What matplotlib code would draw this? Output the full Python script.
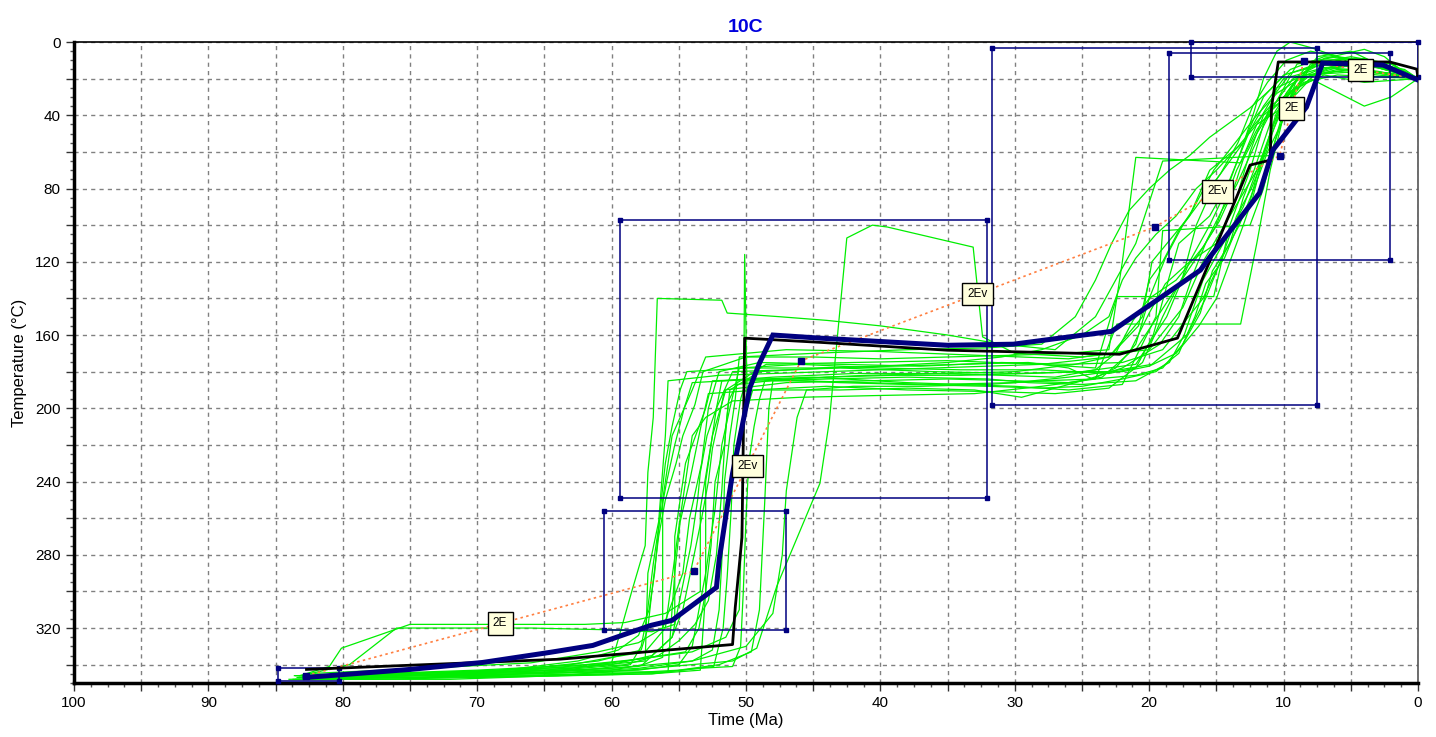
import matplotlib.pyplot as plt
from matplotlib.ticker import MultipleLocator, FuncFormatter

plt.rcParams['font.family'] = ['Liberation Sans', 'DejaVu Sans']

# constraint boxes: (t_old, t_young, T_top, T_bottom)
boxes = [
    (84.8, 80.3, 342, 349),
    (60.6, 47.0, 256, 321),
    (59.4, 32.1, 97, 249),
    (31.7, 7.5, 3, 198),
    (18.5, 2.1, 6, 119),
    (16.9, 0.0, 0, 19),
]

# dotted path through the box points, with the segment labels
path_t = [82.7, 53.9, 45.9, 19.6, 10.3, 8.5, 0.0]
path_T = [346, 289, 174, 101, 62, 10.4, 20]
seg_labels = ["2E", "2Ev", "2Ev", "2Ev", "2E", "2E"]

# best fit path (black)
best_t = [82.7, 63.8, 51.0, 50.8, 50.3, 50.1, 44.5, 35.0, 22.2, 17.9, 12.5, 11.0, 10.9, 10.4, 2.1, 0.1, 0.0]
best_T = [342.6, 337, 329, 308.7, 270.5, 161.7, 164, 168.3, 170.5, 161.7, 67.2, 64.5, 35.5, 10.9, 10.9, 14.8, 19.7]

# weighted mean path (navy)
mean_t = [82.8, 75.0, 69.6, 64.6, 61.4, 57.1, 55.5, 52.2, 52.0, 51.4, 51.0, 50.2, 49.7, 49.0, 48.0,
          44.5, 35.0, 30.1, 22.8, 16.2, 15.5, 11.8, 10.8, 8.3, 7.1, 2.6, 0.0]
mean_T = [347, 342.6, 338.8, 333.3, 329.5, 318.6, 315.8, 297.8, 283, 254, 235.5, 206.6, 188.5, 175.4, 160,
          161.7, 165.6, 165, 158, 124.6, 117.5, 82.5, 59, 35.5, 11.5, 12.6, 20.8]

# good fit paths (green), (t, T) pairs
green_paths = [
    [(83.0,346),(72,344),(62,341),(57.5,338),(57.3,290),(56.5,262),(56,215),(55.8,185),(52,182),(44,180),(36,178),(28,176),(23,172),(20.5,150),(19.8,120),(17,95),(15.5,70),(13,55),(11.5,35),(10,20),(7,14),(3,12),(1,15),(0,20)],
    [(82.8,347),(75,346),(65,344),(58,341),(56.2,336),(56.2,250),(55.5,215),(54,190),(53,172),(47,168),(40,169),(33,171),(26,173),(21,168),(18.5,140),(16.5,118),(15,100),(13.5,70),(12,48),(10.5,32),(9,12),(6,8),(3,14),(0,20)],
    [(83.2,346),(81,341),(80.1,331),(75,318),(62,318),(59,317),(56,312),(53.4,300),(53.4,255),(52.5,215),(51.5,190),(48.5,176),(42,175),(35,174),(28,176),(24,178),(22.4,139),(15.2,139),(14,100),(12.5,70),(11.5,45),(10.5,25),(8.5,18),(4,16),(0,20)],
    [(82.5,345),(79.5,340),(76,320),(66,320),(60,321),(57,322),(55.3,318),(55.3,270),(54.5,230),(53,200),(52.5,185),(45,183),(38,186),(30,188),(26,190),(22,187),(19.5,150),(19,103),(12.5,100),(11.5,80),(10.5,50),(9.5,25),(7.5,10),(4,9),(1,16),(0,20)],
    [(84.0,348),(74,347),(64,346),(57,345),(53.4,343),(53.0,300),(53.0,240),(52.2,200),(51,180),(43,178),(36,180),(30,181),(25,180),(21,176),(18.7,150),(17,120),(15,110),(13.5,85),(12.5,60),(11.5,40),(9.8,30),(8,20),(4,35),(2,30),(0,20)],
    [(83.5,348),(72,348),(64,346),(57.1,342),(51,338),(49.2,331),(47.7,297),(44.5,241),(43.8,207),(42.5,107),(40.6,100),(39.5,101),(33.1,112),(32.4,161),(30,170),(25,172),(20,168),(17.5,145),(16,120),(14,95),(12,70),(11,50),(10,30),(8,18),(5,12),(2,15),(0,20)],
    [(83,347),(70,345),(60,339),(54,333),(51.5,325),(50.5,310),(50.2,230),(50.1,116),(49.9,200),(49.5,190),(44,188),(38,190),(31,191),(27,192),(23,189),(20.5,175),(19,150),(17.5,128),(16.5,100),(15,75),(13,55),(11.5,30),(10,18),(6,10),(3,13),(0,20)],
    [(82.7,346),(72,344),(63,342),(60,339),(58.5,300),(57.5,275),(57.3,235),(56.9,205),(56.6,140),(51.8,141),(51.4,148),(47.5,150),(44,152),(40,155),(35,160),(31,165),(27,168),(24,150),(21,110),(19,65),(11,62),(9.5,30),(8,12),(5,8),(2,12),(0,20)],
    [(83.3,347),(75,347),(66,345),(58,343),(55,340),(54,330),(53.0,290),(52.3,255),(51.8,220),(51.2,200),(50.5,178),(46,176),(40,178),(34,179),(28,179),(23,181),(21,178),(19.7,160),(18.5,128),(17.8,110),(15.5,95),(14,75),(12.5,48),(11,35),(9,25),(7,18),(4,22),(0,20)],
    [(82.9,345),(74,342),(66,339),(61,333),(58,328),(56.2,320),(54.7,290),(54.2,260),(53.3,230),(52.8,200),(52.0,180),(49,175),(43,176),(37,177),(31,175),(26,176),(22,175),(19,168),(16,140),(14.7,120),(13.5,95),(12.4,80),(11.3,60),(10.4,40),(9,25),(7.5,8),(5,5),(3,12),(0,20)],
    [(83.6,346),(70,346),(60,345),(55,343),(52,340),(49.6,333),(49,310),(48.6,250),(48.3,200),(48,185),(44,184),(38,183),(32,184),(29,186),(25,187),(21,185),(18.5,175),(17.4,160),(16,130),(14.5,110),(13,90),(12,70),(11,52),(10,35),(8.5,22),(6,18),(0,20)],
    [(82.6,347),(75,345),(68,343),(63,340),(60,336),(57.5,333),(56,320),(55,265),(54.6,245),(54,215),(53,205),(51,196),(46,194),(40,193),(33,192),(28,188),(24,184),(22.4,154),(13.2,154),(12,110),(11,70),(10,40),(9,20),(6,16),(0,20)],
    [(83.1,346),(78,345),(70,343),(62,340),(58,337),(54.5,333),(53.5,320),(53,300),(52.6,275),(52.3,240),(51.6,220),(51.3,196),(50.7,187),(47,184),(41,182),(35,181),(30,180),(25.5,176),(23,172),(20.8,155),(20,130),(19,120),(17.8,103),(16.8,92),(15.2,70),(13.6,55),(12,40),(10.5,28),(8.8,20),(6,15),(2,17),(0,20)],
    [(83.4,347),(76,346),(67,345),(59,344),(56,344),(52.4,341),(51.7,320),(51.4,292),(51.1,255),(50.9,220),(50.4,195),(50,185),(46,185),(41,186),(36,187),(30,186),(26,183),(23,180),(19.8,176),(17.2,160),(15.8,140),(14.6,118),(13.3,100),(12.2,80),(11.2,60),(10.2,45),(9.3,30),(8.3,18),(5,15),(0,20)],
    [(82.8,346),(76,346),(68,344),(60,342),(54,338),(50,330),(48,312),(47.3,280),(47.0,245),(46.6,225),(46.2,205),(45.5,190),(42,188),(37,188),(32,187),(28,185),(24,184),(21,182),(19,178),(17.5,165),(16.2,148),(15.3,125),(14,110),(13,85),(12.2,70),(11.5,55),(10.8,40),(9.8,28),(8.5,15),(6.5,11),(3,14),(0,20)],
    [(83.0,347),(74,346),(66,342),(61,338),(57.8,332),(57.3,320),(57,300),(56.5,270),(56,250),(55.2,230),(54.7,215),(53.8,198),(53.2,180),(50,172),(45,172),(40,173),(35,172),(30,171),(26,170),(23,168),(22,120),(21,63),(13.2,66),(12,45),(10.8,30),(9.5,17),(7.5,12),(3,14),(0,20)],
    [(82.4,346),(72,345),(64,343),(59,340),(56.5,335),(55,327),(53.8,318),(52.8,305),(52.2,280),(51.8,245),(51.5,210),(51.2,190),(49,180),(44,178),(39,177),(34,176),(29,175),(26,178),(24.2,184),(22.5,178),(21,165),(20,140),(18.8,118),(17.5,100),(16,85),(14.7,72),(13.4,55),(12.3,35),(11.2,22),(9.8,10),(8,5),(6,8),(4,15),(0,20)],
    [(83.7,348),(78,348),(70,347),(63,346),(57,345),(55.8,344),(55.6,320),(55.3,290),(54.9,262),(54.2,240),(53.7,222),(53.3,208),(52.8,192),(49,190),(43,190),(38,189),(33,190),(29.5,194),(27,189),(24.5,184),(22,178),(19.2,165),(17.8,150),(16.8,128),(15.7,108),(14.6,92),(13.5,78),(12.5,62),(11.5,46),(10.5,32),(9.3,20),(7.5,13),(5,12),(2,14),(0,20)],
    [(83.2,347),(75,346),(68,343),(62.5,338),(59.5,332),(58,324),(57.2,310),(56.8,290),(56.3,250),(56,230),(55.5,210),(54.9,190),(54.4,180),(50,178),(45,178),(40,177),(35,175),(31,172),(28,168),(25,160),(23,150),(22,130),(21,118),(19.5,105),(18,95),(16.5,80),(15,70),(13.5,58),(12,45),(10.5,38),(9,28),(7.5,16),(5,10),(2.5,14),(0,20)],
    [(82.9,346),(72,345),(63,344),(58,342),(54,338),(52.5,332),(52,310),(51.7,270),(51.6,240),(51.2,215),(50.8,195),(50.5,172),(45,170),(38,168),(32,167),(28,165),(25.5,150),(24,130),(22.8,110),(21.5,92),(20,80),(18.5,70),(17,62),(15.5,52),(14,44),(12.5,36),(11,26),(9.5,15),(7,8),(4,10),(1.5,16),(0,20)],
    [(83.5,346),(76,345),(70,344),(63,343),(60,343),(57.7,340),(55.5,325),(54.8,300),(54.1,275),(53.6,250),(53.4,235),(52.9,215),(52.2,200),(51.8,185),(48,183),(42,181),(36,181),(31,182),(27,183),(24,179),(22.5,170),(21.2,152),(20,140),(18,130),(16,112),(14.8,98),(13.8,82),(13,64),(12,50),(11,38),(9.8,30),(8.5,20),(6.5,14),(3,12),(0,20)],
    [(82.7,347),(74,347),(66,346),(60,345),(56,344),(53.5,342),(51,341),(50.4,330),(50.2,300),(50.0,260),(49.8,230),(49.4,210),(49,195),(48.6,185),(44,183),(39,182),(34,182),(29,181),(25,180),(22,180),(20,177),(18,170),(16.3,155),(15,140),(14,120),(13,100),(12.3,85),(11.6,65),(11,50),(10.2,35),(9,20),(7,14),(3,16),(0,20)],
    [(83.3,347),(74,346),(65,343),(60,340),(57,335),(55.5,325),(54.7,310),(54,285),(53.3,260),(52.8,240),(52.5,222),(52,205),(51.6,190),(47,186),(41,185),(35,184),(30,185),(26,186),(23.5,183),(21.5,170),(20,148),(18.8,132),(17,120),(15.5,100),(14.2,80),(13.2,60),(12.2,38),(11.5,20),(10.5,5),(9.5,0),(8,3),(6,8),(2,12),(0,20)],
    [(83.0,348),(75,347),(67,345),(62,343),(58.6,340),(57.8,330),(57.4,315),(56.9,285),(56.4,260),(55.9,240),(55.3,220),(54.6,200),(54,186),(49,184),(43,186),(38,187),(32,188),(28,189),(25,188),(22,184),(19.5,180),(17.8,170),(16.6,150),(15.8,132),(14.4,118),(13.4,100),(12.6,90),(11.9,70),(11.2,55),(10.6,40),(9.8,28),(8.8,18),(7,9),(4,4),(2.5,8),(1,17),(0,20)],
]

fig = plt.figure(figsize=(14.36, 7.37), dpi=100)
ax = fig.add_axes([0.0515, 0.0733, 0.936, 0.8697])

navy = "#000080"

for p in green_paths:
    ax.plot([q[0] for q in p], [q[1] for q in p], color="#00ee00", lw=0.9, zorder=2)

for t0, t1, T0, T1 in boxes:
    ax.plot([t0, t1, t1, t0, t0], [T0, T0, T1, T1, T0], color=navy, lw=1.1, zorder=3)
    ax.plot([t0, t1, t1, t0], [T0, T0, T1, T1], ls="none", marker="s", ms=3, color=navy, zorder=3, clip_on=False)

ax.plot(path_t, path_T, color="#ff7f40", lw=1.2, ls=(0, (1.5, 2)), zorder=4)
ax.plot(path_t[:-1], path_T[:-1], ls="none", marker="s", ms=5, color=navy, zorder=6)

ax.plot(best_t, best_T, color="black", lw=2.0, zorder=5)
ax.plot(mean_t, mean_T, color=navy, lw=3.6, zorder=6, solid_joinstyle="miter")

for i, lab in enumerate(seg_labels):
    xm = (path_t[i] + path_t[i + 1]) / 2
    ym = (path_T[i] + path_T[i + 1]) / 2
    ax.text(xm, ym, lab, fontsize=8.5, ha="center", va="center", zorder=7,
            bbox=dict(boxstyle="square,pad=0.45", fc="#ffffdd", ec="black", lw=1.0))

ax.set_xlim(100, 0)
ax.set_ylim(350, 0)

ax.xaxis.set_major_locator(MultipleLocator(5))
ax.xaxis.set_minor_locator(MultipleLocator(1.25))
ax.yaxis.set_major_locator(MultipleLocator(20))
ax.yaxis.set_minor_locator(MultipleLocator(5))
ax.xaxis.set_major_formatter(FuncFormatter(lambda v, p: f"{v:.0f}" if round(v) % 10 == 0 else ""))
ax.yaxis.set_major_formatter(FuncFormatter(lambda v, p: f"{v:.0f}" if round(v) % 40 == 0 else ""))
ax.tick_params(which="major", direction="out", length=6, width=1, labelsize=11, color="#333333")
ax.tick_params(which="minor", direction="out", length=3, width=1, color="#555555")

ax.grid(True, which="major", color="#808080", ls=(0, (3, 3)), lw=1)

for s in ["left", "bottom"]:
    ax.spines[s].set_linewidth(2.5)
ax.spines["top"].set_linewidth(1.2)
ax.spines["right"].set_linewidth(1.2)
ax.spines["right"].set_color("#555555")

ax.set_xlabel("Time (Ma)", fontsize=12, labelpad=2)
ax.set_ylabel("Temperature (°C)", fontsize=12, labelpad=6)
ax.set_title("10C", fontsize=14, fontweight="bold", color="#0000dd", pad=7)

fig.savefig("out.png", dpi=100)
